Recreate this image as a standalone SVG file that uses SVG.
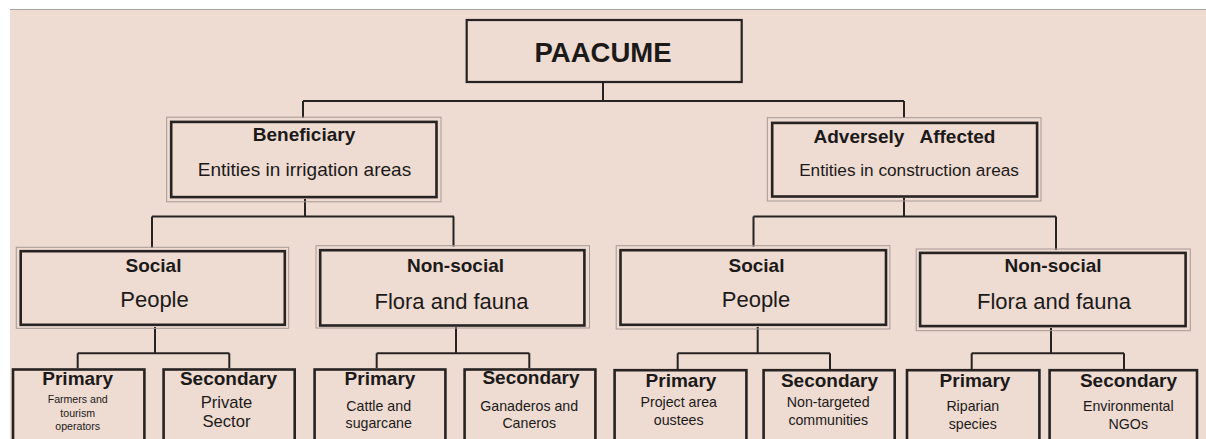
<svg xmlns="http://www.w3.org/2000/svg" width="1206" height="439" viewBox="0 0 1206 439">
  <style>
    .bg { fill: #eedbd1; }
    .frame { fill: none; stroke: #a9a3a0; stroke-width: 1.2; }
    .halo { fill: none; stroke: #a59a95; stroke-width: 1; }
    .box { fill: none; stroke: #262322; stroke-width: 2.6; }
    .root { fill: none; stroke: #262322; stroke-width: 2.2; }
    .leaf { fill: none; stroke: #262322; stroke-width: 2.6; }
    .wire { fill: none; stroke: #262322; stroke-width: 2; }
    text { font-family: "Liberation Sans", Arial, sans-serif; fill: #1c1a19; text-anchor: middle; }
    .title { font-size: 27.5px; font-weight: bold; }
    .h1 { font-size: 19px; font-weight: bold; }
    .h2 { font-size: 19px; font-weight: bold; }
    .h3 { font-size: 19px; font-weight: bold; }
    .sub1 { font-size: 19px; }
    .sub2 { font-size: 22px; }
    .body { font-size: 14.2px; }
    .small { font-size: 10.6px; }
  </style>

  <!-- canvas -->
  <rect x="0" y="0" width="1206" height="439" fill="#ffffff"/>
  <rect class="bg" x="10" y="9.5" width="1196" height="430"/>
  <line class="frame" x1="10" y1="9.5" x2="1206" y2="9.5"/>

  <!-- connectors -->
  <g id="connectors">
    <!-- PAACUME to level 1 -->
    <path class="wire" d="M603,83 V101 M303,101 H904 M303,101 V118 M904,101 V118"/>
    <!-- Beneficiary to level 2 -->
    <path class="wire" d="M305,199 V216.5 M152,216.5 H454 M152,216.5 V248 M453.5,216.5 V246.5"/>
    <!-- Adversely Affected to level 2 -->
    <path class="wire" d="M904,198 V216.5 M753.5,216.5 H1056 M753.5,216.5 V246.5 M1056,216.5 V250"/>
    <!-- level 2 to level 3 -->
    <path class="wire" d="M155,327 V353.3 M77.7,353.3 H229.3 M77.7,353.3 V368 M229.3,353.3 V368"/>
    <path class="wire" d="M456,327 V353.3 M376.7,353.3 H529.3 M376.7,353.3 V368 M529.3,353.3 V368"/>
    <path class="wire" d="M757.7,327 V353.3 M677.7,353.3 H830 M677.7,353.3 V369 M830,353.3 V369"/>
    <path class="wire" d="M1051,328 V353.3 M971.7,353.3 H1124 M971.7,353.3 V369 M1124,353.3 V369"/>
  </g>

  <!-- root -->
  <g id="paacume">
    <rect class="root" x="466.7" y="20" width="275" height="62"/>
    <text class="title" x="603" y="61.5">PAACUME</text>
  </g>

  <!-- level 1 -->
  <g id="beneficiary">
    <rect class="halo" x="166.7" y="117.2" width="274.3" height="84.6"/>
    <rect class="box" x="171.2" y="121.9" width="265.3" height="75.2"/>
    <text class="h1" x="304" y="140.5">Beneficiary</text>
    <text class="sub1" x="304.5" y="175.5">Entities in irrigation areas</text>
  </g>
  <g id="adversely-affected">
    <rect class="halo" x="767.3" y="117.7" width="273.7" height="83.3"/>
    <rect class="box" x="772.2" y="122.9" width="264.9" height="73.6"/>
    <text class="h1" x="904.5" y="142.5" xml:space="preserve">Adversely   Affected</text>
    <text x="909" y="176" style="font-size:17.2px">Entities in construction areas</text>
  </g>

  <!-- level 2 -->
  <g id="social-beneficiary">
    <rect class="halo" x="16.3" y="247.3" width="272.4" height="81"/>
    <rect class="box" x="20.7" y="251.2" width="264.1" height="73.6"/>
    <text class="h2" x="153.5" y="272.3">Social</text>
    <text class="sub2" x="154.5" y="306.7">People</text>
  </g>
  <g id="nonsocial-beneficiary">
    <rect class="halo" x="316" y="245.7" width="273.5" height="82.3"/>
    <rect class="box" x="320.2" y="250.2" width="264.2" height="75.3"/>
    <text class="h2" x="455.5" y="272.3">Non-social</text>
    <text class="sub2" x="451.5" y="309.3">Flora and fauna</text>
  </g>
  <g id="social-affected">
    <rect class="halo" x="616.2" y="245.7" width="273.7" height="83.3"/>
    <rect class="box" x="620.5" y="250.2" width="265.5" height="74.6"/>
    <text class="h2" x="756.5" y="272.3">Social</text>
    <text class="sub2" x="756" y="306.7">People</text>
  </g>
  <g id="nonsocial-affected">
    <rect class="halo" x="916.2" y="249" width="274.1" height="81.7"/>
    <rect class="box" x="920.1" y="252.9" width="265.5" height="73.2"/>
    <text class="h2" x="1053" y="272.3">Non-social</text>
    <text class="sub2" x="1054" y="309.3">Flora and fauna</text>
  </g>

  <!-- level 3 -->
  <g id="primary-social-beneficiary">
    <rect class="leaf" x="13" y="369.5" width="131.4" height="80"/>
    <text class="h3" x="77.7" y="385">Primary</text>
    <text class="small" x="77.7" y="403.3">Farmers and</text>
    <text class="small" x="77.7" y="416.5">tourism</text>
    <text class="small" x="77.7" y="429.5">operators</text>
  </g>
  <g id="secondary-social-beneficiary">
    <rect class="leaf" x="163.6" y="369.5" width="131.1" height="80"/>
    <text class="h3" x="228.5" y="384.5">Secondary</text>
    <text x="226.5" y="408.3" style="font-size:16.6px">Private</text>
    <text x="226.5" y="427.3" style="font-size:16.6px">Sector</text>
  </g>
  <g id="primary-nonsocial-beneficiary">
    <rect class="leaf" x="314.6" y="369.5" width="130.8" height="80"/>
    <text class="h3" x="380" y="385">Primary</text>
    <text class="body" x="378.7" y="411">Cattle and</text>
    <text class="body" x="378.7" y="428.3">sugarcane</text>
  </g>
  <g id="secondary-nonsocial-beneficiary">
    <rect class="leaf" x="464.6" y="369.5" width="130.8" height="80"/>
    <text class="h3" x="531" y="384">Secondary</text>
    <text class="body" x="529.2" y="411">Ganaderos and</text>
    <text class="body" x="529.2" y="428.3">Caneros</text>
  </g>
  <g id="primary-social-affected">
    <rect class="leaf" x="614.6" y="370.2" width="131.8" height="80"/>
    <text class="h3" x="681" y="386.7">Primary</text>
    <text class="body" x="678.7" y="406.7">Project area</text>
    <text class="body" x="678.7" y="425">oustees</text>
  </g>
  <g id="secondary-social-affected">
    <rect class="leaf" x="763.6" y="370.2" width="131.1" height="80"/>
    <text class="h3" x="829.5" y="386.7">Secondary</text>
    <text class="body" x="828.2" y="406.7">Non-targeted</text>
    <text class="body" x="828.2" y="425">communities</text>
  </g>
  <g id="primary-nonsocial-affected">
    <rect class="leaf" x="907" y="370.2" width="132.4" height="80"/>
    <text class="h3" x="975" y="386.7">Primary</text>
    <text class="body" x="972.8" y="411">Riparian</text>
    <text class="body" x="972.8" y="429.3">species</text>
  </g>
  <g id="secondary-nonsocial-affected">
    <rect class="leaf" x="1049.6" y="370.2" width="147.4" height="80"/>
    <text class="h3" x="1128.5" y="386.7">Secondary</text>
    <text class="body" x="1128.3" y="411">Environmental</text>
    <text class="body" x="1128.3" y="429.3">NGOs</text>
  </g>
</svg>
